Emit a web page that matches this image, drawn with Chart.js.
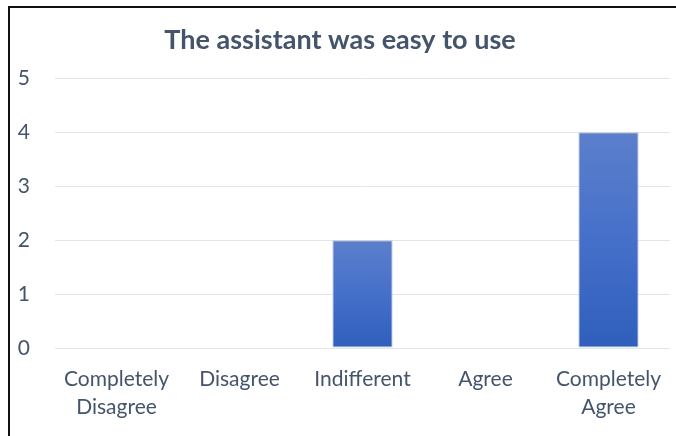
<!DOCTYPE html>
<html>
<head>
<meta charset="utf-8">
<script src="https://cdn.jsdelivr.net/npm/chart.js@4"></script>
<style>
  html, body { margin: 0; padding: 0; background: #fff; }
  #frame {
    position: absolute; left: 8px; top: 6px; width: 668px; height: 430px;
    border-top: 2px solid #111; border-left: 2px solid #111; box-sizing: border-box;
  }
  #wrap { position: absolute; left: 0; top: 0; width: 666px; height: 428px; }
</style>
</head>
<body>
<div id="frame"><div id="wrap"><canvas id="grafico"></canvas></div></div>
<script>
const categorias = [['Completely', 'Disagree'], 'Disagree', 'Indifferent', 'Agree', ['Completely', 'Agree']];
const respuestas = [0, 0, 2, 0, 4];
const ticksY = [0, 1, 2, 3, 4, 5];
const titulo = 'The assistant was easy to use';

const colorTexto = '#44546A';

function degradado(context) {
  const chart = context.chart;
  const { ctx, chartArea, scales } = chart;
  if (!chartArea || !scales.y) return '#4472C4';
  const v = context.raw || 0;
  const top = scales.y.getPixelForValue(v);
  const bottom = scales.y.getPixelForValue(0);
  if (bottom - top < 1) return '#4472C4';
  const g = ctx.createLinearGradient(0, top, 0, bottom);
  g.addColorStop(0, '#5B7FCB');
  g.addColorStop(0.5, '#4570CA');
  g.addColorStop(1, '#2F5EBC');
  return g;
}

const ctx = document.getElementById('grafico').getContext('2d');
new Chart(ctx, {
  type: 'bar',
  data: {
    labels: categorias,
    datasets: [{
      label: titulo,
      data: respuestas,
      backgroundColor: degradado,
      borderColor: '#BCC3CF',
      borderWidth: 1,
      borderSkipped: false,
      categoryPercentage: 1,
      barPercentage: 0.49
    }]
  },
  options: {
    responsive: true,
    maintainAspectRatio: false,
    animation: false,
    layout: { padding: { left: 0, right: 6, top: 0, bottom: 0 } },
    plugins: {
      legend: { display: false },
      tooltip: { enabled: false },
      title: {
        display: true,
        text: titulo,
        color: colorTexto,
        font: { family: 'Lato', size: 27, weight: 'bold' },
        padding: { top: 16, bottom: 22 }
      }
    },
    scales: {
      x: {
        grid: { display: false },
        border: { display: false },
        ticks: {
          color: colorTexto,
          font: { family: 'Lato', size: 21, lineHeight: 1.35 },
          padding: 9,
          maxRotation: 0,
          autoSkip: false
        },
        afterFit: s => { s.height = 88; }
      },
      y: {
        min: 0,
        max: 5,
        afterBuildTicks: s => { s.ticks = ticksY.map(v => ({ value: v })); },
        grid: { color: '#E1E5EB', lineWidth: 1, drawTicks: false },
        border: { display: false },
        ticks: {
          color: colorTexto,
          font: { family: 'Lato', size: 21 },
          padding: 25
        },
        afterFit: s => { s.width = 45; }
      }
    }
  }
});
</script>
</body>
</html>
